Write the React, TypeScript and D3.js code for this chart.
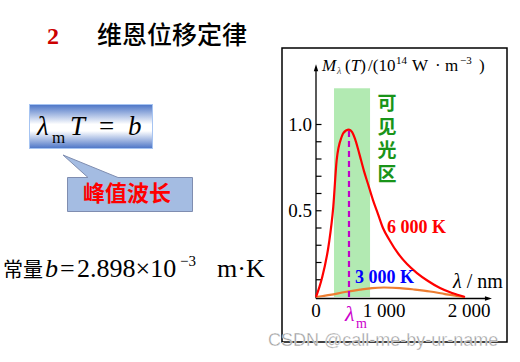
import * as d3 from "d3";
import React from "react";

// 6000 K curve (wavelength nm, M in 1e14 W/m^3)
const wl6000 = [0, 84, 191, 254, 304, 378, 441, 485, 529, 574, 618, 662, 706, 765, 838, 912, 985, 1071, 1153, 1271, 1388, 1518, 1659, 1800, 1953];
const m6000 = [0, 0.104, 0.313, 0.523, 0.794, 0.929, 0.965, 0.97, 0.957, 0.916, 0.858, 0.794, 0.73, 0.655, 0.562, 0.481, 0.4, 0.325, 0.261, 0.191, 0.139, 0.093, 0.052, 0.023, 0];

// 3000 K curve
const wl3000 = [0, 103, 206, 426, 647, 824, 1000, 1188, 1365, 1541, 1718, 1894, 1941];
const m3000 = [0, 0.006, 0.012, 0.029, 0.043, 0.052, 0.055, 0.052, 0.043, 0.032, 0.017, 0.003, 0];

const visibleBand = [265, 795];
const bandTop = 1.21;
const lambdaM = 485;
const peakM = 0.97;

const xTicks = [0, 1000, 2000];
const xTickLabels = ["0", "1 000", "2 000"];
const yMinorTicks = d3.range(1, 11).map((i) => i / 10);
const yLabelTicks = [0.5, 1.0];
const bandChars = ["可", "见", "光", "区"];

const serif = "'Liberation Serif', 'DejaVu Serif', serif";
const cjk = "'Noto Sans CJK SC', sans-serif";

export default function App() {
  const xScale = d3.scaleLinear().domain([0, 1000, 2000]).range([316, 384, 469]);
  const yScale = d3.scaleLinear().domain([0, 1]).range([297, 124.5]);

  const line = d3
    .line<[number, number]>()
    .x((d) => xScale(d[0]))
    .y((d) => yScale(d[1]))
    .curve(d3.curveMonotoneX);

  const hot = line(wl6000.map((w, i) => [w, m6000[i]]));
  const cool = line(wl3000.map((w, i) => [w, m3000[i]]));

  const x0 = xScale(0);
  const y0 = yScale(0);
  const xAxisY = y0 + 1.5;
  const xEnd = xScale(2270);
  const yEnd = yScale(1.35);

  return (
    <svg
      width={520}
      height={362}
      style={{ position: "absolute", left: 0, top: 0, background: "#fff" }}
    >
      <defs>
        <linearGradient id="fbox" x1="0" y1="0" x2="0" y2="1">
          <stop offset="0%" stopColor="#4b74c6" />
          <stop offset="45%" stopColor="#ffffff" />
          <stop offset="60%" stopColor="#ffffff" />
          <stop offset="100%" stopColor="#4b74c6" />
        </linearGradient>
      </defs>

      {/* left side: title */}
      <text x={47} y={44} fontFamily={serif} fontWeight="bold" fontSize={24} fill="#cc0000">
        2
      </text>
      <text x={97} y={44} fontFamily={cjk} fontWeight={500} fontSize={25} fill="#000">
        维恩位移定律
      </text>

      {/* formula box */}
      <rect x={29.5} y={104.5} width={123} height={44} fill="url(#fbox)" stroke="#a6c4f2" strokeWidth={1} />
      <text y={135} fontFamily={serif} fontSize={27} fill="#000">
        <tspan x={37} fontStyle="italic">λ</tspan>
        <tspan x={52} y={143} fontSize={17}>m</tspan>
        <tspan x={70} y={135} fontStyle="italic">T</tspan>
        <tspan x={99}>=</tspan>
        <tspan x={128} fontStyle="italic">b</tspan>
      </text>

      {/* callout */}
      <path
        d="M67.5,177.5 L88,177.5 L63,155 L118,177.5 L192.5,177.5 L192.5,211.5 L67.5,211.5 Z"
        fill="#a4bce2"
        stroke="#7f8db0"
        strokeWidth={1}
      />
      <text x={83} y={201} fontFamily={cjk} fontWeight="bold" fontSize={22} fill="#ff0000">
        峰值波长
      </text>

      {/* constant */}
      <text x={3} y={277} fontFamily={cjk} fontSize={20} fill="#000">
        常量
      </text>
      <text y={277} fontFamily={serif} fontSize={26} fill="#000">
        <tspan x={45} fontStyle="italic">b</tspan>
        <tspan x={60}>=</tspan>
        <tspan x={77}>2.898×10</tspan>
        <tspan x={180} y={266} fontSize={15}>−3</tspan>
        <tspan x={217} y={277}>m·K</tspan>
      </text>

      {/* chart frame */}
      <rect x={282} y={48} width={225} height={294} fill="none" stroke="#000" strokeWidth={1.5} />

      {/* visible band */}
      <rect
        x={xScale(visibleBand[0])}
        y={yScale(bandTop)}
        width={xScale(visibleBand[1]) - xScale(visibleBand[0])}
        height={y0 - yScale(bandTop)}
        fill="#b2eab2"
      />
      {bandChars.map((c, i) => (
        <text
          key={c}
          x={387}
          y={110 + i * 23.5}
          fontFamily={cjk}
          fontSize={19}
          fontWeight="bold"
          fill="#199419"
          textAnchor="middle"
        >
          {c}
        </text>
      ))}

      {/* axes */}
      <line x1={x0} y1={xAxisY} x2={x0} y2={yEnd + 6} stroke="#000" strokeWidth={1.3} />
      <path d={`M${x0},${yEnd} L${x0 - 2.2},${yEnd + 7} L${x0 + 2.2},${yEnd + 7} Z`} fill="#000" />
      <line x1={x0} y1={xAxisY} x2={xEnd - 6} y2={xAxisY} stroke="#000" strokeWidth={1.3} />
      <path d={`M${xEnd},${xAxisY} L${xEnd - 7},${xAxisY - 2.2} L${xEnd - 7},${xAxisY + 2.2} Z`} fill="#000" />

      {yMinorTicks.map((t) => (
        <line key={t} x1={x0} x2={x0 + 5.5} y1={yScale(t)} y2={yScale(t)} stroke="#000" strokeWidth={1.2} />
      ))}
      {yLabelTicks.map((t) => (
        <text
          key={t}
          x={x0 - 4}
          y={yScale(t)}
          dy="0.35em"
          textAnchor="end"
          fontFamily={serif}
          fontSize={19}
          fill="#000"
        >
          {d3.format(".1f")(t)}
        </text>
      ))}
      {xTicks.map((t, i) => (
        <text
          key={t}
          x={xScale(t)}
          y={317}
          textAnchor="middle"
          fontFamily={serif}
          fontSize={19}
          fill="#000"
        >
          {xTickLabels[i]}
        </text>
      ))}

      {/* y axis title */}
      <text y={71} fontFamily={serif} fontSize={17} fill="#000">
        <tspan x={322} fontStyle="italic">M</tspan>
        <tspan x={337} y={74} fontSize={10} fontStyle="italic" fill="#555">λ</tspan>
        <tspan x={345} y={71}>(</tspan>
        <tspan fontStyle="italic">T</tspan>
        <tspan>)</tspan>
        <tspan x={368}>/(10</tspan>
        <tspan x={396} y={64} fontSize={11}>14</tspan>
        <tspan x={412} y={71}>W</tspan>
        <tspan x={435}>·</tspan>
        <tspan x={445}>m</tspan>
        <tspan x={460} y={64} fontSize={11}>−3</tspan>
        <tspan x={479} y={71}>)</tspan>
      </text>

      {/* curves */}
      <path d={cool ?? ""} fill="none" stroke="#ed7d31" strokeWidth={2.2} />
      <path d={hot ?? ""} fill="none" stroke="#ff0000" strokeWidth={2.2} />
      <line
        x1={xScale(lambdaM)}
        x2={xScale(lambdaM)}
        y1={y0}
        y2={yScale(peakM)}
        stroke="#c000c8"
        strokeWidth={2.2}
        strokeDasharray="6,4"
      />

      {/* labels */}
      <text x={387} y={233} fontFamily={serif} fontWeight="bold" fontSize={18} fill="#ff0000">
        6 000 K
      </text>
      <text x={355} y={283} fontFamily={serif} fontWeight="bold" fontSize={18} fill="#0000ff">
        3 000 K
      </text>
      <text x={453} y={288} fontFamily={serif} fontSize={20} fill="#000">
        <tspan fontStyle="italic">λ</tspan>
        <tspan> / nm</tspan>
      </text>
      <text x={xScale(lambdaM) - 4} y={321} fontFamily={serif} fontSize={22} fill="#cc00cc">
        <tspan fontStyle="italic">λ</tspan>
        <tspan x={xScale(lambdaM) + 7} y={328} fontSize={14}>m</tspan>
      </text>

      {/* watermark */}
      <text
        x={268}
        y={346}
        fontFamily="'Liberation Sans', Arial, sans-serif"
        fontSize={18}
        fill="#9a9a9a"
        stroke="#ffffff"
        strokeWidth={0.4}
      >
        CSDN @call-me-by-ur-name
      </text>
    </svg>
  );
}
